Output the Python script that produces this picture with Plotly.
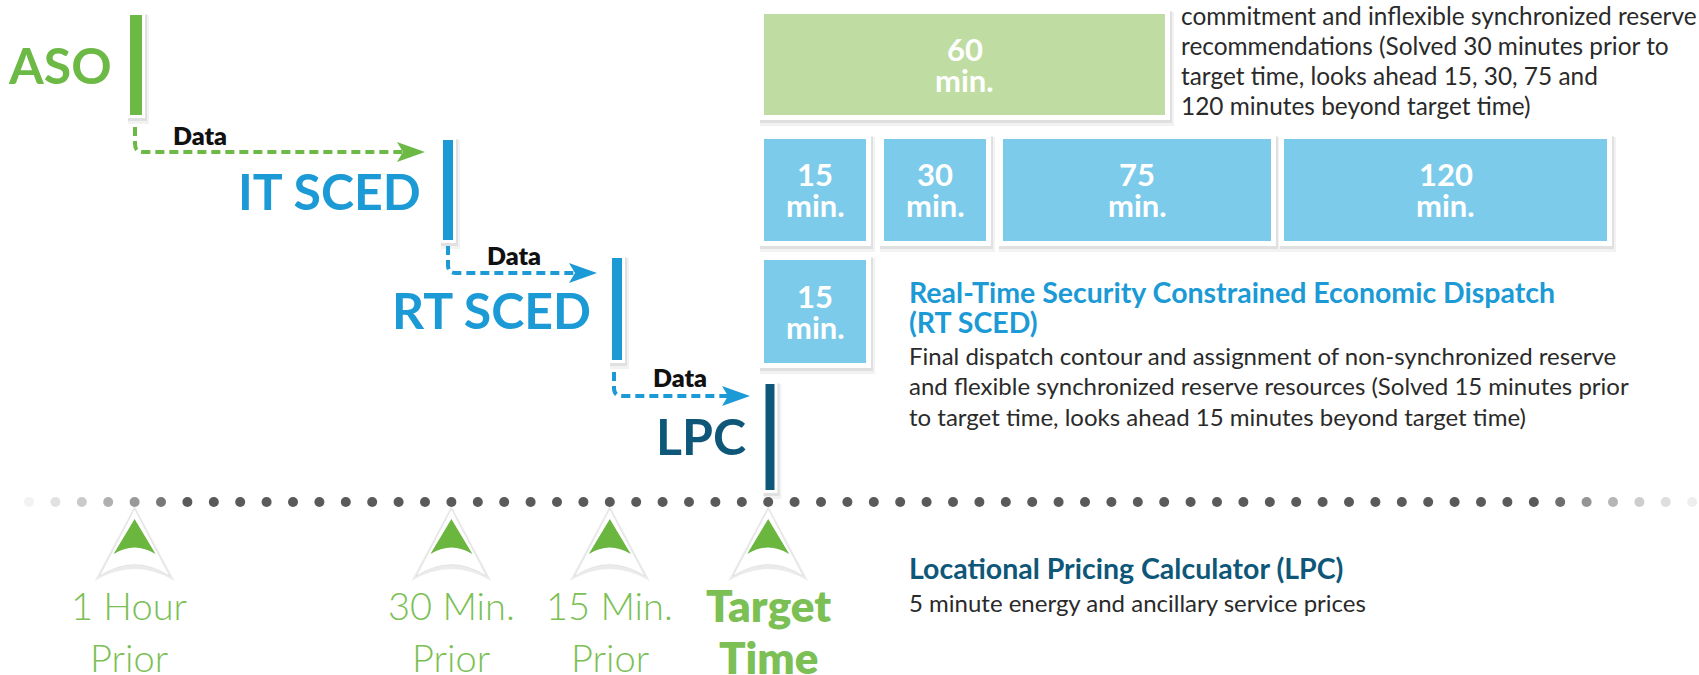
import plotly.graph_objects as go

W, H = 1699, 675

# ---------------- data ----------------
stages = ["ASO", "IT SCED", "RT SCED", "LPC"]
stage_colors = ["#6cb946", "#1b9ad6", "#1b9ad6", "#0e5779"]
link_label = "Data"
link_colors = ["#6cb946", "#1b9ad6", "#1b9ad6"]

aso_windows = ["60"]
it_sced_windows = ["15", "30", "75", "120"]
rt_sced_windows = ["15"]
window_unit = "min."

it_sced_desc = [
    "commitment and inflexible synchronized reserve",
    "recommendations (Solved 30 minutes prior to",
    "target time, looks ahead 15, 30, 75 and",
    "120 minutes beyond target time)",
]
rt_sced_title = ["Real-Time Security Constrained Economic Dispatch", "(RT SCED)"]
rt_sced_desc = [
    "Final dispatch contour and assignment of non-synchronized reserve",
    "and flexible synchronized reserve resources (Solved 15 minutes prior",
    "to target time, looks ahead 15 minutes beyond target time)",
]
lpc_title = "Locational Pricing Calculator (LPC)"
lpc_desc = "5 minute energy and ancillary service prices"

timeline_labels = [["1 Hour", "Prior"], ["30 Min.", "Prior"], ["15 Min.", "Prior"], ["Target", "Time"]]
timeline_bold = [False, False, False, True]

# ---------------- layout geometry ----------------
bar_cx = [136, 448, 617, 770]
bar_w = [12, 10, 10, 9]
bar_y = [(15, 115), (140, 240), (258, 360), (384, 490)]
label_right = [114, 423, 593, 748]
label_cy = [65, 191, 310, 436]
data_label_pos = [(200, 135), (514, 255), (680, 377)]
conn = [(135, 127, 152, 425), (448, 246, 273, 597), (614, 372, 396, 750)]

aso_box_x = [(764, 1165)]
aso_box_y = (14, 115)
it_box_x = [(764, 866), (884, 986), (1003, 1271), (1284, 1607)]
it_box_y = (139, 241)
rt_box_x = [(764, 866)]
rt_box_y = (260, 363)

dot_start, dot_step, n_dots, dot_y = 29, 26.4, 64, 502
marker_dot_index = [4, 16, 22, 28]

FONT = "Lato"
GREEN_LBL = "#7bbf55"
TEXT = "#2a2a2a"

fig = go.Figure()
shapes = []
ann = []


def framed_rect(x0, y0, x1, y1, fill, pad):
    shapes.append(dict(type="rect", x0=x0 - pad + 1, y0=y0 - pad + 3, x1=x1 + pad + 4, y1=y1 + pad + 6,
                       fillcolor="rgba(0,0,0,0.05)", line_width=0, layer="below"))
    shapes.append(dict(type="rect", x0=x0 - pad + 1, y0=y0 - pad + 2, x1=x1 + pad + 2, y1=y1 + pad + 3,
                       fillcolor="rgba(0,0,0,0.07)", line_width=0, layer="below"))
    shapes.append(dict(type="rect", x0=x0 - pad, y0=y0 - pad, x1=x1 + pad, y1=y1 + pad,
                       fillcolor="white", line_width=0, layer="below"))
    shapes.append(dict(type="rect", x0=x0, y0=y0, x1=x1, y1=y1,
                       fillcolor=fill, line_width=0, layer="below"))


# stage bars + labels
for i, name in enumerate(stages):
    cx, w = bar_cx[i], bar_w[i]
    y0, y1 = bar_y[i]
    framed_rect(cx - w / 2, y0, cx + w / 2, y1, stage_colors[i], 3)
    ann.append(dict(x=label_right[i], y=label_cy[i], text=name, showarrow=False,
                    xanchor="right", yanchor="middle",
                    font=dict(family=FONT, size=50, color=stage_colors[i], weight=700)))

# data connectors
for i, (x0, ys, yc, tip) in enumerate(conn):
    col = link_colors[i]
    path = f"M {x0},{ys} L {x0},{yc - 8} Q {x0},{yc} {x0 + 8},{yc} L {tip - 22},{yc}"
    shapes.append(dict(type="path", path=path, line=dict(color=col, width=4, dash="9px,5px"),
                       layer="above"))
    head = f"M {tip - 28},{yc - 10} L {tip},{yc} L {tip - 28},{yc + 10} L {tip - 22},{yc} Z"
    shapes.append(dict(type="path", path=head, fillcolor=col, line_width=0, layer="above"))
    dx, dy = data_label_pos[i]
    ann.append(dict(x=dx, y=dy, text=link_label, showarrow=False, xanchor="center", yanchor="middle",
                    font=dict(family=FONT, size=25, color="#111111", weight=800)))

# window boxes


def window_boxes(labels, xs, yr, fill):
    for lab, (x0, x1) in zip(labels, xs):
        framed_rect(x0, yr[0], x1, yr[1], fill, 5)
        cy = (yr[0] + yr[1]) / 2
        ann.append(dict(x=(x0 + x1) / 2, y=cy - 16, text=lab, showarrow=False, xanchor="center",
                        yanchor="middle", font=dict(family=FONT, size=31, color="white", weight=700)))
        ann.append(dict(x=(x0 + x1) / 2, y=cy + 15, text=window_unit, showarrow=False, xanchor="center",
                        yanchor="middle", font=dict(family=FONT, size=31, color="white", weight=700)))


window_boxes(aso_windows, aso_box_x, aso_box_y, "#bfdda3")
window_boxes(it_sced_windows, it_box_x, it_box_y, "#7dcbea")
window_boxes(rt_sced_windows, rt_box_x, rt_box_y, "#7dcbea")

# descriptive texts
for j, line in enumerate(it_sced_desc):
    ann.append(dict(x=1179, y=15 + 30 * j, text=line, showarrow=False, xanchor="left", yanchor="middle",
                    font=dict(family=FONT, size=24.4, color=TEXT)))
for j, line in enumerate(rt_sced_title):
    ann.append(dict(x=907, y=292 + 30 * j, text=line, showarrow=False, xanchor="left", yanchor="middle",
                    font=dict(family=FONT, size=28.5, color="#1b9ad6", weight=700)))
for j, line in enumerate(rt_sced_desc):
    ann.append(dict(x=907, y=355 + 30.5 * j, text=line, showarrow=False, xanchor="left", yanchor="middle",
                    font=dict(family=FONT, size=24, color=TEXT)))
ann.append(dict(x=907, y=568, text=lpc_title, showarrow=False, xanchor="left", yanchor="middle",
                font=dict(family=FONT, size=28.5, color="#0e5779", weight=700)))
ann.append(dict(x=907, y=602, text=lpc_desc, showarrow=False, xanchor="left", yanchor="middle",
                font=dict(family=FONT, size=24, color=TEXT)))

# timeline dots
dot_x = [dot_start + dot_step * k for k in range(n_dots)]
fade = {0: 0.08, 1: 0.18, 2: 0.32, 3: 0.48, 4: 0.62, 5: 0.82,
        58: 0.88, 59: 0.65, 60: 0.45, 61: 0.3, 62: 0.2, 63: 0.1}
dot_col = [f"rgba(90,90,90,{fade.get(k, 1.0)})" for k in range(n_dots)]
fig.add_trace(go.Scatter(x=dot_x, y=[dot_y] * n_dots, mode="markers",
                         marker=dict(size=10, color=dot_col, line_width=0),
                         hoverinfo="skip", showlegend=False))

# timeline markers (arrowheads) + labels
for i, k in enumerate(marker_dot_index):
    c = dot_start + dot_step * k
    shapes.append(dict(type="path",
                       path=f"M {c-40},{581} L {c},{506} L {c+40},{581} Q {c},{557} {c-40},{581} Z",
                       fillcolor="rgba(0,0,0,0.08)", line_width=0, layer="below"))
    shapes.append(dict(type="path",
                       path=f"M {c-35},{576} L {c},{509} L {c+35},{576} Q {c},{553} {c-35},{576} Z",
                       fillcolor="white", line=dict(color="rgba(0,0,0,0.06)", width=1), layer="below"))
    shapes.append(dict(type="path",
                       path=f"M {c-21},{554} L {c},{519} L {c+21},{554} Q {c},{541} {c-21},{554} Z",
                       fillcolor="#6ab63f", line_width=0, layer="above"))
    l1, l2 = timeline_labels[i]
    bold = timeline_bold[i]
    for t, yy in ((l1, 605), (l2, 657)):
        ann.append(dict(x=c - (6 if i == 0 else 0), y=yy, text=t, showarrow=False, xanchor="center",
                        yanchor="middle",
                        font=dict(family=FONT, size=44 if bold else 38, color=GREEN_LBL,
                                  weight=800 if bold else 300)))

fig.update_layout(
    width=W, height=H, margin=dict(l=0, r=0, t=0, b=0),
    paper_bgcolor="white", plot_bgcolor="white",
    xaxis=dict(range=[0, W], visible=False, fixedrange=True),
    yaxis=dict(range=[H, 0], visible=False, fixedrange=True),
    shapes=shapes, annotations=ann, showlegend=False,
)
fig.write_html("out.html", config={"displayModeBar": False},
               post_script="document.body.style.margin='0';document.body.style.overflow='hidden';")
